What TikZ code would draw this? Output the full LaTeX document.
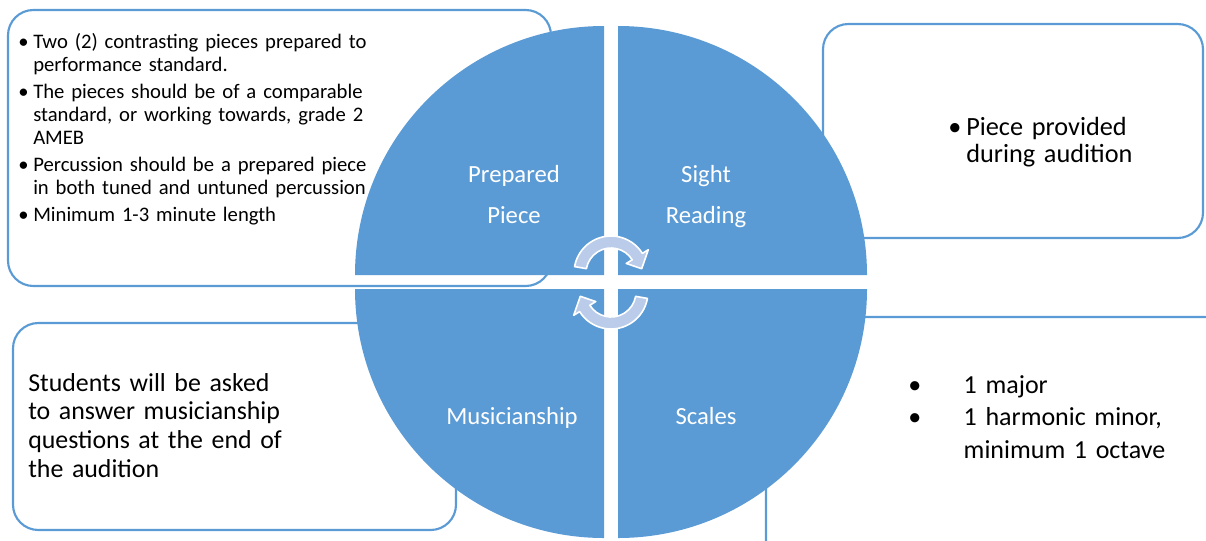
\documentclass[tikz,border=0pt]{standalone}
\usepackage{fontspec}
\setmainfont{Carlito}
\usetikzlibrary{positioning}
\definecolor{qblue}{HTML}{5B9BD5}
\definecolor{qlight}{RGB}{186,204,233}

\tikzset{
  infobox/.style={draw=qblue, line width=1.6pt, rounded corners=19pt, fill=white},
  quarter/.style={fill=qblue},
  qlabel/.style={text=white, font=\fontsize{18.5}{30.75}\selectfont, align=center,
    text width=110pt, anchor=base, inner sep=0pt},
  infotext/.style={anchor=base west, align=left, inner sep=0pt, text width=290pt},
  cycle arrow/.pic={
    \draw [fill=qlight, draw=white, line width=1.2pt, line join=round]
      (190:37) arc (190:328:37) -- (328:44) -- (352:31) -- (328:18)
      -- (328:25) arc (328:190:25) -- cycle;
  }
}

\begin{document}
\begin{tikzpicture}[x=0.75pt, y=-0.75pt]
  \useasboundingbox (0, 0) rectangle (1206, 540);

  \draw [infobox] (8, 10) rectangle (551, 286);
  \draw [infobox] (823, 24) rectangle (1203, 238);
  \draw [infobox] (13, 323) rectangle (456, 530);
  \draw [infobox] (766, 317) rectangle (1230, 570);

  \fill [quarter] (604, 275) -- (355, 275) arc (180:270:249) -- cycle;
  \fill [quarter] (618, 275) -- (618, 26) arc (270:360:249) -- cycle;
  \fill [quarter] (618, 289) -- (867, 289) arc (0:90:249) -- cycle;
  \fill [quarter] (604, 289) -- (604, 538) arc (90:180:249) -- cycle;

  \pic at (611, 273) {cycle arrow};
  \pic [rotate=180] at (611, 292) {cycle arrow};

  \node [qlabel] (prep) at (514, 182) {Prepared\\Piece};
  \node [qlabel] (sight) at (706, 182) {Sight\\Reading};
  \node [qlabel] (music) at (512, 424) {Musicianship};
  \node [qlabel] (scales) at (706, 424) {Scales};

  \node [infotext, font=\fontsize{15.5}{17.25}\selectfont] (tlnote) at (18, 48)
    {\makebox[11.25pt][l]{•}Two (2) contrasting pieces prepared to\\
     \hspace*{11.25pt}performance standard.\\[3pt]
     \makebox[11.25pt][l]{•}The pieces should be of a comparable\\
     \hspace*{11.25pt}standard, or working towards, grade 2\\
     \hspace*{11.25pt}AMEB\\[3pt]
     \makebox[11.25pt][l]{•}Percussion should be a prepared piece\\
     \hspace*{11.25pt}in both tuned and untuned percussion\\[3pt]
     \makebox[11.25pt][l]{•}Minimum 1-3 minute length};
  \node [infotext, font=\fontsize{19.7}{20.25}\selectfont] (trnote) at (948, 135)
    {\makebox[13.5pt][l]{•}Piece provided\\
     \hspace*{13.5pt}during audition};
  \node [infotext, font=\fontsize{19.4}{21.5}\selectfont] (blnote) at (28, 391)
    {Students will be asked\\
     to answer musicianship\\
     questions at the end of\\
     the audition};
  \node [infotext, font=\fontsize{19.5}{24.4}\selectfont] (brnote) at (908, 393)
    {\makebox[41.6pt][l]{•}1 major\\
     \makebox[41.6pt][l]{•}1 harmonic minor,\\
     \hspace*{41.6pt}minimum 1 octave};
\end{tikzpicture}
\end{document}
